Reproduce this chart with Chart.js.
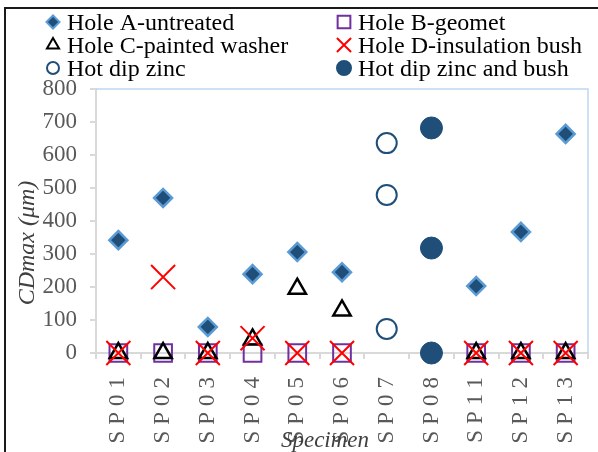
<!DOCTYPE html>
<html>
<head>
<meta charset="utf-8">
<script src="https://cdn.jsdelivr.net/npm/chart.js@4/dist/chart.umd.min.js"></script>
<style>
  body { margin: 0; background: #fff; }
  #wrap { width: 598px; height: 452px; }
</style>
</head>
<body>
<div id="wrap"><canvas id="chart" width="598" height="452"></canvas></div>
<script>
// categories
var specimens = ['SP01', 'SP02', 'SP03', 'SP04', 'SP05', 'SP06', 'SP07', 'SP08', 'SP11', 'SP12', 'SP13'];

// series values (um), null where the specimen has no such hole
var holeA = [342, 470, 79, 239, 306, 245, null, null, 203, 367, 664];
var holeB = [0, 0, 0, 0, 0, 0, null, null, 0, 0, 0];
var holeC = [0, 0, 0, 41, 195, 129, null, null, 0, 0, 0];
var holeD = [0, 230, 0, 45, 0, 0, null, null, 0, 0, 0];

// galvanised specimens carry several readings on one category
var zincSpecimen = 'SP07';
var zincValues = [636, 479, 73];
var zincBushSpecimen = 'SP08';
var zincBushValues = [682, 318, 0];

// axis
var yMin = 0, yMax = 800, yStep = 100;
var xTitle = 'Specimen';
var yTitle = 'CDmax (\u03bcm)';

var serif = "'Liberation Serif', 'Times New Roman', serif";
var navy = '#1F4E79';

function onCategory(cat, vals) {
    return vals.map(function (v) { return { x: cat, y: v }; });
}

var datasets = [
    { label: 'Hole A-untreated', data: holeA, order: 0,
      pointStyle: 'rectRot', pointRadius: 9, pointBorderWidth: 2.5,
      pointBackgroundColor: navy, pointBorderColor: '#5B9BD5' },
    { label: 'Hole B-geomet', data: holeB, order: 3,
      pointStyle: 'rect', pointRadius: 12.5, pointBorderWidth: 2,
      pointBackgroundColor: 'rgba(0,0,0,0)', pointBorderColor: '#7030A0' },
    { label: 'Hole C-painted washer', data: holeC, order: 2,
      pointStyle: 'triangle', pointRadius: 10, pointBorderWidth: 2.5,
      pointBackgroundColor: 'rgba(0,0,0,0)', pointBorderColor: '#000000' },
    { label: 'Hole D-insulation bush', data: holeD, order: 1,
      pointStyle: 'crossRot', pointRadius: 17, pointBorderWidth: 2,
      pointBackgroundColor: '#FF0000', pointBorderColor: '#FF0000' },
    { label: 'Hot dip zinc', data: onCategory(zincSpecimen, zincValues), order: 4,
      pointStyle: 'circle', pointRadius: 10, pointBorderWidth: 2,
      pointBackgroundColor: '#FFFFFF', pointBorderColor: navy },
    { label: 'Hot dip zinc and bush', data: onCategory(zincBushSpecimen, zincBushValues), order: 5,
      pointStyle: 'circle', pointRadius: 11, pointBorderWidth: 1,
      pointBackgroundColor: navy, pointBorderColor: navy }
];
datasets.forEach(function (d) {
    d.showLine = false;
    d.clip = false;
    d.pointHoverRadius = d.pointRadius;
});

// legend markers are a bit smaller than the plot markers
var legendItems = [
    { ds: 0, col: 0, row: 0, r: 6.5 },
    { ds: 1, col: 1, row: 0, r: 9 },
    { ds: 2, col: 0, row: 1, r: 7 },
    { ds: 3, col: 1, row: 1, r: 10 },
    { ds: 4, col: 0, row: 2, r: 6 },
    { ds: 5, col: 1, row: 2, r: 7 }
];

var framePlugin = {
    id: 'frame',
    afterUpdate: function (chart) {
        // spaced out x tick labels, like the original
        var xs = chart.scales.x;
        if (xs && !xs._spaced) {
            var orig = xs.drawLabels;
            xs.drawLabels = function (area) {
                var c = this.ctx;
                c.letterSpacing = '6px';
                orig.call(this, area);
                c.letterSpacing = '0px';
            };
            xs._spaced = true;
        }
    },
    beforeDatasetsDraw: function (chart) {
        var ctx = chart.ctx, a = chart.chartArea;
        ctx.save();
        ctx.strokeStyle = '#BDD7EE';
        ctx.lineWidth = 1.5;
        ctx.beginPath();
        ctx.moveTo(a.left, a.top);
        ctx.lineTo(a.right, a.top);
        ctx.lineTo(a.right, a.bottom);
        ctx.stroke();
        ctx.restore();
    },
    afterDraw: function (chart) {
        var ctx = chart.ctx, a = chart.chartArea;
        ctx.save();
        // outer frame (left and top only)
        ctx.strokeStyle = '#1a1a1a';
        ctx.lineWidth = 2;
        ctx.beginPath();
        ctx.moveTo(5, 452);
        ctx.lineTo(5, 8);
        ctx.lineTo(598, 8);
        ctx.stroke();

        // axis titles, sitting a little low/left of centre as in the original
        ctx.fillStyle = '#404040';
        ctx.font = 'italic 24px ' + serif;
        ctx.textAlign = 'center';
        ctx.textBaseline = 'middle';
        ctx.save();
        ctx.translate(28, (a.top + a.bottom) / 2 + 22);
        ctx.rotate(-Math.PI / 2);
        ctx.fillText(yTitle, 0, 0);
        ctx.restore();
        ctx.font = 'italic 23px ' + serif;
        ctx.textBaseline = 'alphabetic';
        ctx.fillText(xTitle, (a.left + a.right) / 2 - 17, 447);

        // legend, 2 columns x 3 rows
        var colX = [53, 344], rowY = [22, 45, 68];
        ctx.font = '24px ' + serif;
        ctx.textAlign = 'left';
        legendItems.forEach(function (it) {
            var d = chart.data.datasets[it.ds];
            var x = colX[it.col], y = rowY[it.row];
            ctx.fillStyle = d.pointBackgroundColor;
            ctx.strokeStyle = d.pointBorderColor;
            Chart.helpers.drawPoint(ctx, {
                pointStyle: d.pointStyle,
                radius: it.r,
                borderWidth: Math.min(d.pointBorderWidth, 2),
                rotation: 0
            }, x, y);
            ctx.fillStyle = '#000';
            ctx.fillText(d.label, x + 14, y + 8);
        });
        ctx.restore();
    }
};

new Chart(document.getElementById('chart'), {
    type: 'line',
    data: { labels: specimens, datasets: datasets },
    plugins: [framePlugin],
    options: {
        responsive: false,
        animation: false,
        events: [],
        layout: { autoPadding: false, padding: { top: 89, right: 10, bottom: 0, left: 5 } },
        plugins: { legend: { display: false }, tooltip: { enabled: false } },
        scales: {
            x: {
                type: 'category',
                offset: true,
                afterFit: function (s) {
                    s.height = 99;
                    s.paddingLeft = 0;
                    s.paddingRight = 0;
                },
                grid: { offset: true, drawOnChartArea: false, drawTicks: true, tickLength: 6,
                        color: '#D9D9D9', lineWidth: 2 },
                border: { display: true, color: '#D9D9D9', width: 2 },
                ticks: { color: '#595959', font: { family: serif, size: 23 },
                         minRotation: 90, maxRotation: 90, padding: 12, autoSkip: false },
                title: { display: false }
            },
            y: {
                min: yMin, max: yMax,
                afterFit: function (s) {
                    s.width = 91;
                    s.paddingTop = 0;
                    s.paddingBottom = 0;
                },
                grid: { drawOnChartArea: false, drawTicks: true, tickLength: 6,
                        color: '#D9D9D9', lineWidth: 2 },
                border: { display: true, color: '#D9D9D9', width: 2 },
                ticks: { stepSize: yStep, color: '#595959', padding: 13,
                         font: { family: serif, size: 23 } },
                title: { display: false }
            }
        }
    }
});
</script>
</body>
</html>
